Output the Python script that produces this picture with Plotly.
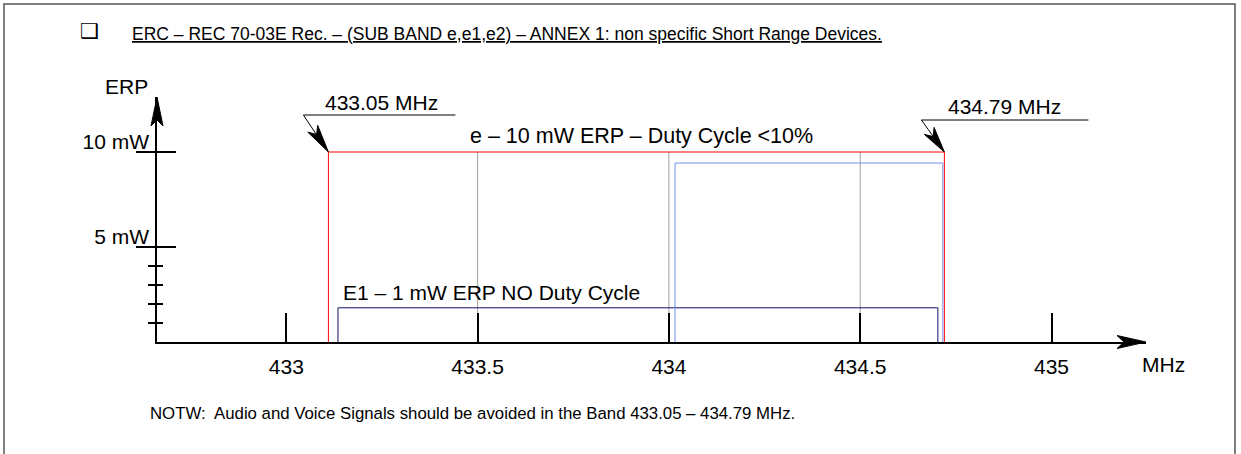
import plotly.graph_objects as go

# ---------------- data ----------------
freq_ticks = [433.0, 433.5, 434.0, 434.5, 435.0]
freq_tick_text = ["433", "433.5", "434", "434.5", "435"]
grid_freqs = [433.5, 434.0, 434.5]          # grey guide lines inside band e
erp_major = [5, 10]
erp_major_text = ["5 mW", "10 mW"]
erp_minor = [1, 2, 3, 4]

band_names = ["e", "e1", "e2"]
band_lo = [433.11, 433.135, 434.016]        # MHz
band_hi = [434.72, 434.703, 434.716]        # MHz
band_erp = [10.0, 1.8, 9.42]                # mW
band_colors = ["#ff0000", "#101068", "#7090f0"]

edge_labels = ["433.05 MHz", "434.79 MHz"]

# ---------------- layout geometry ----------------
W, H = 1241, 454
L, R, T, B = 157, 95, 97, 112
PW, PH = W - L - R, H - T - B
X_RANGE = [432.662, 435.247]
Y_RANGE = [0, 12.895]
FONT = "Liberation Sans, Arial, sans-serif"


def xp(px):
    return (px - L) / PW


def yp(py):
    return (H - B - py) / PH


fig = go.Figure()

# grey guide lines
for f in grid_freqs:
    fig.add_trace(go.Scatter(x=[f, f], y=[0, band_erp[0]], mode="lines",
                             line=dict(color="#a0a0a0", width=1),
                             hoverinfo="skip", showlegend=False))

# band rectangles
for name, lo, hi, top, col in zip(band_names, band_lo, band_hi, band_erp, band_colors):
    fig.add_trace(go.Scatter(x=[lo, lo, hi, hi], y=[0, top, top, 0], mode="lines",
                             line=dict(color=col, width=1), name=name,
                             hoverinfo="skip", showlegend=False))

# invisible trace to carry the overlaid y axis
fig.add_trace(go.Scatter(x=[freq_ticks[0]], y=[0], yaxis="y2", mode="markers",
                         marker=dict(opacity=0), hoverinfo="skip", showlegend=False))

shapes = []
# outer frame
shapes.append(dict(type="rect", xref="paper", yref="paper",
                   x0=xp(4), x1=xp(1235), y0=yp(470), y1=yp(4),
                   line=dict(color="#555555", width=1.5), fillcolor="rgba(0,0,0,0)"))
# y-axis arrowhead (anchored at top of the axis)
shapes.append(dict(type="path", xref="paper", yref="paper", xsizemode="pixel", ysizemode="pixel",
                   xanchor=0, yanchor=1,
                   path="M 0 0 L 6 -29 L 0 -23 L -6 -29 Z",
                   fillcolor="black", line=dict(color="black", width=1)))
# x-axis arrowhead (anchored at end of the axis)
shapes.append(dict(type="path", xref="paper", yref="paper", xsizemode="pixel", ysizemode="pixel",
                   xanchor=1, yanchor=0,
                   path="M 0 0 L -29 6.5 L -22 0 L -29 -6.5 Z",
                   fillcolor="black", line=dict(color="black", width=1)))
# leader to lower band edge
shapes.append(dict(type="path", xref="x", yref="y", xsizemode="pixel", ysizemode="pixel",
                   xanchor=band_lo[0], yanchor=band_erp[0],
                   path="M 127 37 L -25 37 L -12 17.4",
                   line=dict(color="black", width=1)))
shapes.append(dict(type="path", xref="x", yref="y", xsizemode="pixel", ysizemode="pixel",
                   xanchor=band_lo[0], yanchor=band_erp[0],
                   path="M 0 0 L -10.7 26.6 L -11.8 17.4 L -20.6 19.9 Z",
                   fillcolor="black", line=dict(color="black", width=1)))
# leader to upper band edge
shapes.append(dict(type="path", xref="x", yref="y", xsizemode="pixel", ysizemode="pixel",
                   xanchor=band_hi[0], yanchor=band_erp[0],
                   path="M 144 32 L -23 32 L -11 15.4",
                   line=dict(color="black", width=1)))
shapes.append(dict(type="path", xref="x", yref="y", xsizemode="pixel", ysizemode="pixel",
                   xanchor=band_hi[0], yanchor=band_erp[0],
                   path="M 0 0 L -10.3 24.6 L -11.1 15.4 L -20 17.6 Z",
                   fillcolor="black", line=dict(color="black", width=1)))

annotations = []


def txt(text, x, y, size=21, xanchor="left", family=FONT):
    annotations.append(dict(text=text, xref="paper", yref="paper", x=xp(x), y=yp(y),
                            xanchor=xanchor, yanchor="middle", showarrow=False,
                            font=dict(family=family, size=size, color="black")))


txt("\u2751", 78, 31, size=21, family="DejaVu Sans")
txt("<u>ERC \u2013 REC 70-03E Rec. \u2013 (SUB BAND e,e1,e2) \u2013 ANNEX 1: non specific Short Range Devices.</u>",
    130, 34, size=17.5)
txt("ERP", 103, 87)
txt(edge_labels[0], 323, 103)
txt(edge_labels[1], 946, 106)
txt("e \u2013 10 mW ERP \u2013 Duty Cycle <10%", 468, 136, size=21.5)
txt("E1 \u2013 1 mW ERP NO Duty Cycle", 341, 292)
txt("MHz", 1140, 364)
txt("NOTW:  Audio and Voice Signals should be avoided in the Band 433.05 \u2013 434.79 MHz.",
    148, 413, size=16.8)

fig.update_layout(
    width=W, height=H, margin=dict(l=L, r=R, t=T, b=B),
    paper_bgcolor="white", plot_bgcolor="white",
    showlegend=False, shapes=shapes, annotations=annotations,
    xaxis=dict(range=X_RANGE, tickvals=freq_ticks, ticktext=freq_tick_text,
               ticks="inside", ticklen=29, tickwidth=2, tickcolor="black",
               showline=True, linecolor="black", linewidth=1.5,
               showgrid=False, zeroline=False, fixedrange=True,
               ticklabelstandoff=5,
               tickfont=dict(family=FONT, size=21, color="black")),
    yaxis=dict(range=Y_RANGE, tickvals=erp_major, ticktext=erp_major_text,
               ticks="outside", ticklen=19, tickwidth=2, tickcolor="black",
               minor=dict(tickvals=erp_minor, ticks="outside", ticklen=7,
                          tickwidth=1.5, tickcolor="black", showgrid=False),
               showline=True, linecolor="black", linewidth=1.5,
               showgrid=False, zeroline=False, fixedrange=True,
               ticklabelshift=-10, ticklabelstandoff=-17,
               tickfont=dict(family=FONT, size=21, color="black")),
    yaxis2=dict(range=Y_RANGE, overlaying="y", side="left", anchor="x",
                tickvals=erp_major, showticklabels=False,
                ticks="inside", ticklen=19, tickwidth=2, tickcolor="black",
                minor=dict(tickvals=erp_minor, ticks="inside", ticklen=6,
                           tickwidth=1.5, tickcolor="black", showgrid=False),
                showline=False, showgrid=False, zeroline=False, fixedrange=True),
)

fig.write_html("out.html", config={"displayModeBar": False},
               post_script="document.body.style.margin='0';")
